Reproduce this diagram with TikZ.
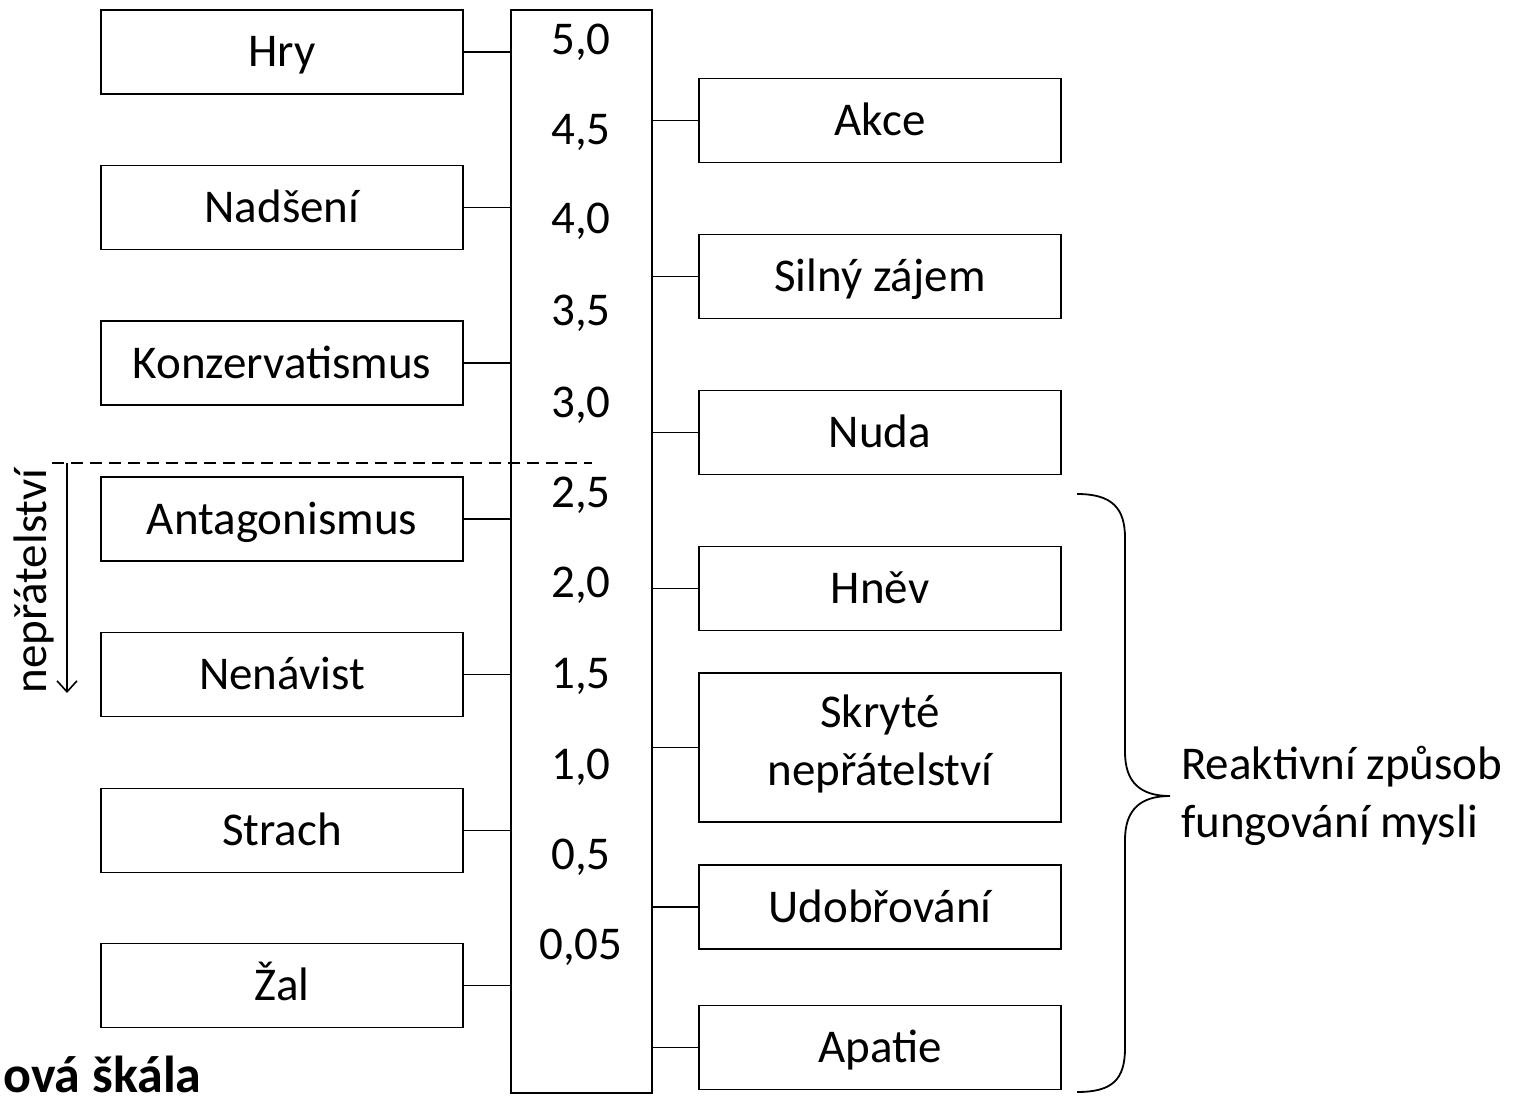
\documentclass[tikz,border=0pt]{standalone}
\usepackage{fontspec}
\setmainfont{Carlito}
\usetikzlibrary{arrows.meta}
\begin{document}
\begin{tikzpicture}[x=1pt,y=-1pt,
  every node/.style={font=\fontsize{47pt}{58pt}\selectfont, inner sep=0pt},
  lbox/.style={draw, line width=1.8pt, minimum width=362pt, minimum height=84pt, text height=30pt, text depth=0pt},
  num/.style={anchor=base},
  conn/.style={line width=1.6pt}]
\useasboundingbox (0,0) rectangle (1521,1099);
% central column
\node[draw, line width=1.8pt, minimum width=141pt, minimum height=1083pt] (col) at (581.5,551.5) {};
% numbers
\node[num] (n50) at (581,55) {5,0};
\node[num] (n45) at (581,145) {4,5};
\node[num] (n40) at (581,234) {4,0};
\node[num] (n35) at (581,326) {3,5};
\node[num] (n30) at (581,417) {3,0};
\node[num] (n25) at (581,507) {2,5};
\node[num] (n20) at (581,597) {2,0};
\node[num] (n15) at (581,688) {1,5};
\node[num] (n10) at (581,779) {1,0};
\node[num] (n05) at (581,869) {0,5};
\node[num] (n005) at (581,959) {0,05};
% left boxes
\node[lbox] (hry) at (282,52) {Hry};
\node[lbox] (nad) at (282,207.5) {Nadšení};
\node[lbox] (kon) at (282,363) {Konzervatismus};
\node[lbox] (ant) at (282,519) {Antagonismus};
\node[lbox] (nen) at (282,674.5) {Nenávist};
\node[lbox] (str) at (282,830.5) {Strach};
\node[lbox] (zal) at (282,985.5) {Žal};
% right boxes
\node[lbox] (akc) at (880,120.5) {Akce};
\node[lbox] (siln) at (880,276.5) {Silný zájem};
\node[lbox] (nud) at (880,432.5) {Nuda};
\node[lbox] (hnev) at (880,588.5) {Hněv};
\node[draw, line width=1.8pt, minimum width=362pt, minimum height=149pt] (skr) at (880,747.5) {};
\node[align=center] (skrt) at (880,744) {Skryté\\nepřátelství};
\node[lbox] (udo) at (880,907) {Udobřování};
\node[lbox] (apa) at (880,1047.5) {Apatie};
% connectors
\foreach \b in {hry,nad,kon,ant,nen,str,zal}
  \draw[conn] (\b.east) -- (\b.east -| col.west);
\foreach \b in {akc,siln,nud,hnev,skr,udo,apa}
  \draw[conn] (\b.west) -- (\b.west -| col.east);
% dashed line and arrow
\coordinate (dL) at (52,463);
\coordinate (dR) at (592,463);
\draw[line width=1.5pt, dash pattern=on 12pt off 7pt] (dL) -- (dR);
\coordinate (aS) at (67,463);
\coordinate (aE) at (67,693);
\draw[line width=1.6pt, -{Straight Barb[length=11pt,width=20pt,line width=1.6pt]}] (aS) -- (aE);
\node[rotate=90] (nep) at (34,581) {nepřátelství};
% brace
\draw[line width=1.8pt] (1077,494) .. controls (1112,494) and (1125,508) .. (1125,538)
  -- (1125,752) .. controls (1125,782) and (1140,796) .. (1170,796)
  .. controls (1140,796) and (1125,810) .. (1125,840)
  -- (1125,1048) .. controls (1125,1080) and (1112,1092) .. (1077,1092);
\node[align=left, anchor=west] (rea) at (1181,796) {Reaktivní způsob\\fungování mysli};
% bottom-left title fragment
\node[anchor=base west, font=\fontsize{52pt}{60pt}\selectfont\bfseries] (tit) at (3,1092) {ová škála};
\end{tikzpicture}
\end{document}
